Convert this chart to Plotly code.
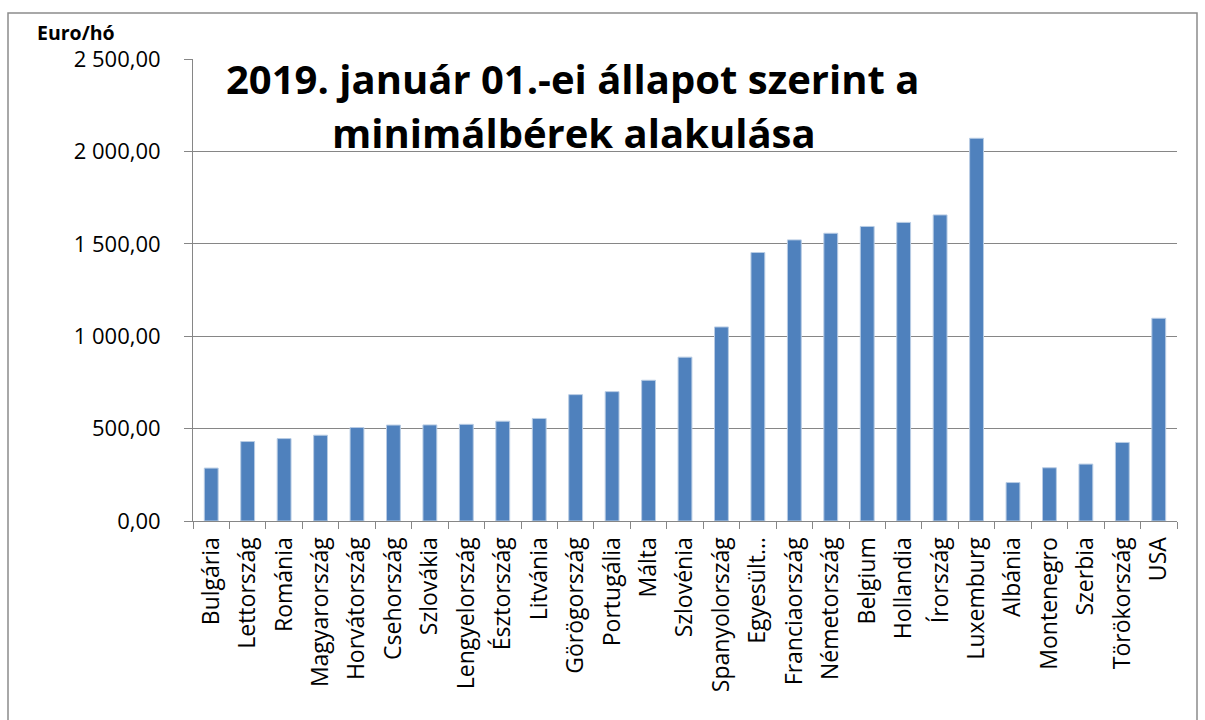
import plotly.graph_objects as go

countries = ["Bulgária", "Lettország", "Románia", "Magyarország", "Horvátország",
             "Csehország", "Szlovákia", "Lengyelország", "Észtország", "Litvánia",
             "Görögország", "Portugália", "Málta", "Szlovénia", "Spanyolország",
             "Egyesült…", "Franciaország", "Németország", "Belgium", "Hollandia",
             "Írország", "Luxemburg", "Albánia", "Montenegro", "Szerbia",
             "Törökország", "USA"]
min_wage = [286.33, 430.00, 446.02, 464.20, 505.81,
            518.97, 520.00, 523.09, 540.00, 555.00,
            683.76, 700.00, 761.64, 886.63, 1050.00,
            1452.94, 1521.22, 1557.00, 1593.81, 1615.80,
            1656.20, 2071.10, 208.00, 288.05, 308.00,
            425.00, 1097.00]
y_ticks = [0, 500, 1000, 1500, 2000, 2500]

title_lines = ["2019. január 01.-ei állapot szerint a", "minimálbérek alakulása"]
y_unit = "Euro/hó"

W, H = 1205, 720
L, R, T, B = 193, 1177, 59, 521.5

font_family = "'Open Sans', sans-serif"

fig = go.Figure()
fig.add_trace(go.Bar(
    x=countries, y=min_wage,
    marker=dict(color="#4F81BD", line=dict(color="#B8CCE4", width=1)),
    hoverinfo="x+y",
))

grid_col = "#868686"

fig.update_layout(
    width=W, height=H,
    margin=dict(l=L, r=W - R, t=T, b=H - B, pad=0),
    paper_bgcolor="white", plot_bgcolor="white",
    separators=", ",
    bargap=0.62,
    showlegend=False,
    font=dict(family=font_family, color="black"),
    xaxis=dict(
        type="category",
        tickangle=-90,
        tickfont=dict(size=23, family=font_family),
        ticks="outside", ticklen=7, tickcolor=grid_col, tickwidth=1,
        tickson="boundaries",
        showline=True, linecolor=grid_col, linewidth=1,
        showgrid=False,
        ticklabelstandoff=6,
    ),
    yaxis=dict(
        range=[0, 2500],
        tickvals=y_ticks,
        tickformat=",.2f",
        tickfont=dict(size=22, family=font_family),
        ticks="outside", ticklen=8, tickcolor=grid_col, tickwidth=1,
        showline=True, linecolor=grid_col, linewidth=1,
        showgrid=True, gridcolor=grid_col, gridwidth=1,
        zeroline=False,
        ticklabelstandoff=19,
    ),
)

pw, ph = R - L, B - T

def px_x(x):
    return (x - L) / pw

def px_y(y):
    return (B - y) / ph

# outer chart border
fig.add_shape(type="rect", xref="paper", yref="paper",
              x0=px_x(8), x1=px_x(1197), y0=px_y(740), y1=px_y(13),
              line=dict(color="#8C8C8C", width=1.5), fillcolor="rgba(0,0,0,0)", layer="below")

# title (two lines, overlapping plot area as in reference)
fig.add_annotation(xref="paper", yref="paper", x=px_x(572), y=px_y(79),
                   text=title_lines[0], showarrow=False, xanchor="center", yanchor="middle",
                   font=dict(size=40, family=font_family, color="black", weight="bold"))
fig.add_annotation(xref="paper", yref="paper", x=px_x(574), y=px_y(133),
                   text=title_lines[1], showarrow=False, xanchor="center", yanchor="middle",
                   font=dict(size=40, family=font_family, color="black", weight="bold"))

# y unit label
fig.add_annotation(xref="paper", yref="paper", x=px_x(35), y=px_y(32),
                   text=y_unit, showarrow=False, xanchor="left", yanchor="middle",
                   font=dict(size=19.5, family=font_family, color="black", weight="bold"))

fig.write_html("out.html", post_script="document.body.style.margin='0';",
               config={"displayModeBar": False})
